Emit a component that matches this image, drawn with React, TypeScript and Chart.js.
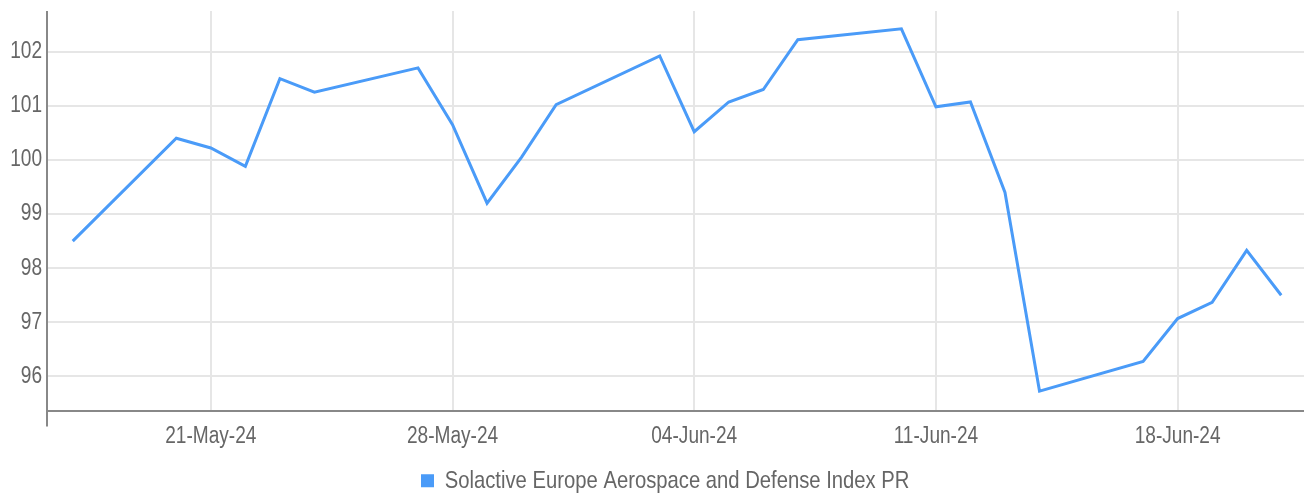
import React, { useEffect, useRef } from "react";
import { Chart, registerables } from "chart.js";

Chart.register(...registerables);

const SERIES_LABEL = "Solactive Europe Aerospace and Defense Index PR";

const DATES = [
  "2024-05-17", "2024-05-20", "2024-05-21", "2024-05-22", "2024-05-23", "2024-05-24",
  "2024-05-27", "2024-05-28", "2024-05-29", "2024-05-30", "2024-05-31",
  "2024-06-03", "2024-06-04", "2024-06-05", "2024-06-06", "2024-06-07",
  "2024-06-10", "2024-06-11", "2024-06-12", "2024-06-13", "2024-06-14",
  "2024-06-17", "2024-06-18", "2024-06-19", "2024-06-20", "2024-06-21",
];

const VALUES = [
  98.5, 100.4, 100.22, 99.88, 101.5, 101.25,
  101.7, 100.65, 99.2, 100.05, 101.02,
  101.92, 100.52, 101.07, 101.3, 102.22,
  102.42, 100.98, 101.07, 99.4, 95.73,
  96.28, 97.07, 97.37, 98.33, 97.5,
];

const X_TICK_DATES = ["2024-05-21", "2024-05-28", "2024-06-04", "2024-06-11", "2024-06-18"];
const X_TICK_LABELS = ["21-May-24", "28-May-24", "04-Jun-24", "11-Jun-24", "18-Jun-24"];
const Y_TICKS = [96, 97, 98, 99, 100, 101, 102];

const FONT = "'Liberation Sans', Arial, sans-serif";
const SX = 0.83; // horizontal condensing of text (the reference uses a condensed face)
const DAY = 86400000;
const BASE = Date.parse(DATES[0] + "T00:00:00Z");
const dayOf = (d: string) => (Date.parse(d + "T00:00:00Z") - BASE) / DAY;

function condenseText(ctx: any) {
  if (!ctx || ctx.__condensed) return;
  ctx.__condensed = true;
  const origFill = ctx.fillText.bind(ctx);
  const origMeasure = ctx.measureText.bind(ctx);
  ctx.fillText = (text: string, x: number, y: number, maxWidth?: number) => {
    ctx.save();
    ctx.translate(x, y);
    ctx.scale(SX, 1);
    if (maxWidth === undefined || maxWidth === null) origFill(text, 0, 0);
    else origFill(text, 0, 0, maxWidth / SX);
    ctx.restore();
  };
  ctx.measureText = (text: string) => {
    const m = origMeasure(text);
    return {
      width: m.width * SX,
      actualBoundingBoxAscent: m.actualBoundingBoxAscent,
      actualBoundingBoxDescent: m.actualBoundingBoxDescent,
      actualBoundingBoxLeft: m.actualBoundingBoxLeft * SX,
      actualBoundingBoxRight: m.actualBoundingBoxRight * SX,
      fontBoundingBoxAscent: m.fontBoundingBoxAscent,
      fontBoundingBoxDescent: m.fontBoundingBoxDescent,
    };
  };
}

export default function App() {
  const ref = useRef<HTMLCanvasElement | null>(null);

  useEffect(() => {
    if (!ref.current) return;
    condenseText(ref.current.getContext("2d"));
    const xs = DATES.map(dayOf);
    const xMin = xs[0] - 0.745;
    const xMax = xs[xs.length - 1] + 0.66;
    const tickDays = X_TICK_DATES.map(dayOf);

    const yAxisExtend = {
      id: "yAxisExtend",
      afterLayout(chart: any) {
        // the reference legend sits a little right of centre
        if (chart.legend) {
          chart.legend.left += 14;
          chart.legend.right += 14;
        }
      },
      afterDraw(chart: any) {
        const { ctx, chartArea } = chart;
        ctx.save();
        ctx.strokeStyle = "#888888";
        ctx.lineWidth = 2;
        ctx.beginPath();
        ctx.moveTo(chartArea.left, chartArea.top);
        ctx.lineTo(chartArea.left, chartArea.bottom + 16);
        ctx.stroke();
        ctx.restore();
      },
    };

    const chart = new Chart(ref.current, {
      type: "line",
      data: {
        datasets: [
          {
            label: SERIES_LABEL,
            data: xs.map((x, i) => ({ x, y: VALUES[i] })),
            borderColor: "#4a9bf8",
            backgroundColor: "#4a9bf8",
            borderWidth: 3,
            pointRadius: 0,
            tension: 0,
          },
        ],
      },
      options: {
        animation: false,
        responsive: true,
        maintainAspectRatio: false,
        layout: { padding: { top: 11, left: 0, right: 0, bottom: -9 } },
        plugins: {
          tooltip: { enabled: false },
          legend: {
            position: "bottom",
            labels: {
              boxWidth: 10,
              boxHeight: 10,
              padding: 4,
              color: "#666666",
              font: { family: FONT, size: 24.4 },
            },
          },
        },
        scales: {
          x: {
            type: "linear",
            min: xMin,
            max: xMax,
            afterFit(scale: any) {
              scale.height = 54;
              scale.paddingLeft = 0;
              scale.paddingRight = 0;
            },
            afterBuildTicks(scale: any) {
              scale.ticks = tickDays.map((v) => ({ value: v }));
            },
            grid: { color: "#e6e6e6", lineWidth: 2, drawTicks: false },
            border: { color: "#888888", width: 2 },
            ticks: {
              padding: 12,
              color: "#666666",
              font: { family: FONT, size: 23 },
              maxRotation: 0,
              autoSkip: false,
              callback: (v: any) => {
                const i = tickDays.indexOf(Number(v));
                return i >= 0 ? X_TICK_LABELS[i] : "";
              },
            },
          },
          y: {
            min: 95.37,
            max: 102.75,
            afterFit(scale: any) {
              scale.width = 47;
              scale.paddingTop = 0;
              scale.paddingBottom = 0;
            },
            afterBuildTicks(scale: any) {
              scale.ticks = Y_TICKS.map((v) => ({ value: v }));
            },
            grid: { color: "#e6e6e6", lineWidth: 2, drawTicks: false },
            border: { display: false },
            ticks: {
              padding: 5,
              color: "#666666",
              font: { family: FONT, size: 23 },
            },
          },
        },
      },
      plugins: [yAxisExtend],
    });
    return () => chart.destroy();
  }, []);

  return (
    <div style={{ position: "fixed", left: 0, top: 0, width: 1304, height: 494, background: "#ffffff" }}>
      <canvas ref={ref} />
    </div>
  );
}
